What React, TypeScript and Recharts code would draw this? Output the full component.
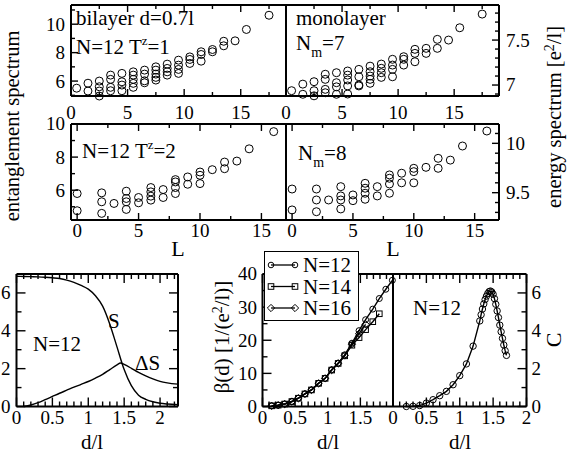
import React from 'react';
import { ScatterChart, Scatter, ComposedChart, Line, XAxis, YAxis, Legend } from 'recharts';

const W = 569;
const H = 453;
const FONT = 'Liberation Serif, DejaVu Serif, serif';

// ---------------- DATA ----------------
// Entanglement spectrum, bilayer d=0.7l, N=12, T^z=1
const tz1L = [0.5, 1.5, 2.5, 3.5, 4.5, 5.5, 6.5, 7.5, 8.5, 9.5, 10.5, 11.5, 12.5, 13.5, 14.5, 15.5, 17.5];
const tz1Levels = [
  [5.5],
  [5.85, 5.3],
  [6.0, 5.6, 5.3, 4.95],
  [6.42, 6.12, 5.56, 5.32],
  [6.54, 5.95, 5.72, 5.32],
  [6.65, 6.42, 6.12, 5.84, 5.56],
  [6.77, 6.49, 6.02, 5.88],
  [7.0, 6.77, 6.49, 6.26, 6.07],
  [7.19, 6.89, 6.65, 6.42],
  [7.47, 7.12, 6.82, 6.54],
  [7.7, 7.52, 7.24],
  [8.06, 7.87, 7.4],
  [8.22, 8.06],
  [8.8, 8.48],
  [8.83],
  [9.63],
  [10.63],
];

// Energy spectrum, monolayer N_m=7
const nm7L = [0.5, 1.5, 2.5, 3.5, 4.5, 5.5, 6.5, 7.5, 8.5, 9.5, 10.5, 11.5, 12.5, 13.5, 14.5, 15.5, 17.5];
const nm7Levels = [
  [6.937],
  [7.01, 6.897],
  [7.037, 6.937, 6.88],
  [7.12, 7.063, 6.952, 6.914],
  [7.137, 7.026, 6.98, 6.897],
  [7.156, 7.11, 7.056, 6.99, 6.9],
  [7.174, 7.092, 7.0, 6.99],
  [7.21, 7.148, 7.1, 7.063, 7.019],
  [7.233, 7.186, 7.137, 7.085],
  [7.286, 7.222, 7.174, 7.092],
  [7.315, 7.286, 7.222],
  [7.397, 7.352, 7.259],
  [7.408, 7.352],
  [7.508, 7.408],
  [7.5],
  [7.637],
  [7.789],
];

// Entanglement spectrum, N=12, T^z=2
const tz2L = [0, 2, 3, 4, 5, 6, 7, 8, 9, 10, 11, 12, 13, 14, 16];
const tz2Levels = [
  [5.8, 4.76],
  [5.84, 5.3, 4.6],
  [5.2],
  [5.94, 5.5, 5.3, 4.84],
  [5.56, 5.24],
  [6.16, 5.9, 5.64, 5.4],
  [6.04, 5.56],
  [6.64, 6.5, 6.16, 5.8],
  [6.8, 6.36],
  [7.1, 6.9, 6.4],
  [7.24],
  [7.7, 7.3],
  [7.76],
  [8.5],
  [9.54],
];

// Energy spectrum, monolayer N_m=8
const nm8L = [0, 2, 3, 4, 5, 6, 7, 8, 9, 10, 11, 12, 13, 14, 16];
const nm8Levels = [
  [9.537, 9.325],
  [9.537, 9.426, 9.307],
  [9.426],
  [9.561, 9.467, 9.426, 9.335],
  [9.477, 9.419],
  [9.595, 9.545, 9.494, 9.433],
  [9.561, 9.467],
  [9.68, 9.646, 9.588, 9.494],
  [9.697, 9.6],
  [9.747, 9.713, 9.6],
  [9.757],
  [9.848, 9.747],
  [9.83],
  [9.973],
  [10.125],
];

// S and Delta S vs d/l (N=12)
const sD = [0, 0.1, 0.2, 0.3, 0.4, 0.5, 0.6, 0.7, 0.8, 0.9, 1.0, 1.1, 1.2, 1.3, 1.4, 1.5, 1.6, 1.7, 1.8, 1.9, 2.0, 2.1, 2.25];
const sV = [6.88, 6.87, 6.86, 6.85, 6.83, 6.8, 6.76, 6.68, 6.56, 6.4, 6.2, 5.85, 5.3, 4.35, 3.15, 1.95, 1.1, 0.6, 0.38, 0.25, 0.17, 0.13, 0.1];
const dsD = [0.1, 0.2, 0.3, 0.4, 0.5, 0.6, 0.7, 0.8, 0.9, 1.0, 1.1, 1.2, 1.3, 1.4, 1.45, 1.5, 1.6, 1.7, 1.8, 1.9, 2.0, 2.1, 2.25];
const dsV = [0, 0.08, 0.2, 0.36, 0.53, 0.7, 0.86, 1.02, 1.17, 1.32, 1.5, 1.7, 1.95, 2.2, 2.3, 2.22, 2.02, 1.8, 1.62, 1.46, 1.33, 1.25, 1.18];

// beta(d)
const b12D = [0.14, 0.24, 0.34, 0.45, 0.55, 0.65, 0.75, 0.86, 0.96, 1.06, 1.16, 1.26, 1.37, 1.48, 1.58, 1.69, 1.79, 1.89, 1.99];
const b12V = [0.2, 0.4, 0.75, 1.5, 2.5, 3.8, 5.0, 7.0, 8.5, 11.1, 13.1, 15.6, 19.1, 22.9, 26.2, 29.4, 32.6, 35.4, 38.1];
const b14D = [0.14, 0.24, 0.34, 0.45, 0.55, 0.65, 0.75, 0.86, 0.96, 1.06, 1.16, 1.26, 1.37, 1.48, 1.58, 1.69, 1.79];
const b14V = [0.2, 0.4, 0.75, 1.5, 2.5, 3.8, 5.0, 7.0, 8.5, 11.0, 13.0, 15.3, 18.5, 20.8, 23.2, 25.6, 28.0];
const b16D = [0.14, 0.24, 0.34, 0.45, 0.55, 0.65, 0.75, 0.86, 0.96, 1.06, 1.16, 1.26, 1.37, 1.48, 1.58];
const b16V = [0.2, 0.4, 0.75, 1.5, 2.5, 3.8, 5.0, 7.0, 8.5, 11.0, 13.0, 15.4, 18.8, 22.0, 24.8];

// C(d), N=12
const cD = [0.2, 0.3, 0.4, 0.5, 0.6, 0.7, 0.8, 0.9, 1.0, 1.1, 1.2, 1.3, 1.32, 1.34, 1.36, 1.38, 1.4, 1.42, 1.44, 1.46,
  1.48, 1.5, 1.52, 1.54, 1.56, 1.58, 1.6, 1.62, 1.64, 1.66, 1.68, 1.7];
const cV = [0.0, 0.01, 0.05, 0.18, 0.36, 0.57, 0.8, 1.15, 1.63, 2.25, 3.19, 4.52, 4.85, 5.15, 5.42, 5.65, 5.83, 5.97, 6.07, 6.1,
  6.05, 5.93, 5.7, 5.4, 5.05, 4.7, 4.3, 3.95, 3.6, 3.25, 2.95, 2.7];

const legendNames = ['N=12', 'N=14', 'N=16'];

// ---------------- helpers ----------------
const levelsToPoints = (Ls: number[], lv: number[][]) =>
  Ls.flatMap((L, i) => lv[i].map((v) => ({ x: L, y: v })));
const zip = (xs: number[], ys: number[]) => xs.map((x, i) => ({ x, y: ys[i] }));
const steps = (a: number, b: number, s: number) => {
  const out: number[] = [];
  for (let k = 0; a + k * s <= b + 1e-9; k++) out.push(Math.round((a + k * s) * 1000) / 1000);
  return out;
};

type Edge = { major: number[]; minor?: number[]; labels?: number[]; gap?: number; majorLen: number; minorLen: number };
type Geom = {
  x0: number; x1: number; y0: number; y1: number;
  xDomain: [number, number]; yDomain: [number, number];
  bottom?: Edge; top?: Edge; left?: Edge; right?: Edge;
};

const near = (a: number[] | undefined, v: number) => !!a && a.some((m) => Math.abs(m - v) < 1e-6);
const TFS = 19;

// edge position comes from the panel frame, the tick position along the edge from the axis scale
function tickRenderer(side: 'bottom' | 'top' | 'left' | 'right', g: Geom, e?: Edge) {
  return (props: any) => {
    const { payload } = props;
    if (!e) return <g />;
    const v = payload.value as number;
    const c = side === 'bottom' || side === 'top'
      ? (Number.isFinite(props.x) ? props.x : payload.coordinate)
      : (Number.isFinite(props.y) ? props.y : payload.coordinate);
    const len = near(e.major, v) ? e.majorLen : near(e.minor, v) ? e.minorLen : 0;
    const lab = near(e.labels, v);
    const gap = e.gap ?? 5;
    let line: any = null;
    let text: any = null;
    const ts = { fontFamily: FONT, fontSize: TFS, fill: '#000' };
    if (side === 'bottom') {
      const y = g.y1;
      if (len) line = <line x1={c} y1={y} x2={c} y2={y - len} />;
      if (lab) text = <text x={c} y={y + gap + TFS * 0.68} textAnchor="middle" {...ts}>{String(v)}</text>;
    } else if (side === 'top') {
      const y = g.y0;
      if (len) line = <line x1={c} y1={y} x2={c} y2={y + len} />;
    } else if (side === 'left') {
      const x = g.x0;
      if (len) line = <line x1={x} y1={c} x2={x + len} y2={c} />;
      if (lab) text = <text x={x - gap} y={c + TFS * 0.34} textAnchor="end" {...ts}>{String(v)}</text>;
    } else {
      const x = g.x1;
      if (len) line = <line x1={x} y1={c} x2={x - len} y2={c} />;
      if (lab) text = <text x={x + gap} y={c + TFS * 0.34} textAnchor="start" {...ts}>{String(v)}</text>;
    }
    return (
      <g>
        {line && <g stroke="#000" strokeWidth={1.4}>{line}</g>}
        {text}
      </g>
    );
  };
}

const AXIS = { stroke: '#000', strokeWidth: 2 };

const edgeTicks = (e: Edge | undefined, dom: [number, number]) => {
  if (!e) return [dom[0]];
  const all = [...e.major, ...(e.minor ?? [])];
  return Array.from(new Set(all)).sort((a, b) => a - b);
};

function frameAxes(g: Geom) {
  return [
    <XAxis key="xs" xAxisId="s" type="number" dataKey="x" domain={g.xDomain} hide />,
    <YAxis key="ys" yAxisId="s" type="number" dataKey="y" domain={g.yDomain} hide />,
    <XAxis key="xb" xAxisId="b" dataKey="x" orientation="bottom" type="number" domain={g.xDomain} allowDataOverflow height={1}
      ticks={edgeTicks(g.bottom, g.xDomain)} interval={0} tickLine={false} tickSize={0} tickMargin={0}
      axisLine={AXIS} tick={tickRenderer('bottom', g, g.bottom)} />,
    <XAxis key="xt" xAxisId="t" dataKey="x" orientation="top" type="number" domain={g.xDomain} allowDataOverflow height={1}
      ticks={edgeTicks(g.top, g.xDomain)} interval={0} tickLine={false} tickSize={0} tickMargin={0}
      axisLine={AXIS} tick={tickRenderer('top', g, g.top)} />,
    <YAxis key="yl" yAxisId="l" dataKey="y" orientation="left" type="number" domain={g.yDomain} allowDataOverflow width={1}
      ticks={edgeTicks(g.left, g.yDomain)} interval={0} tickLine={false} tickSize={0} tickMargin={0}
      axisLine={AXIS} tick={tickRenderer('left', g, g.left)} />,
    <YAxis key="yr" yAxisId="r" dataKey="y" orientation="right" type="number" domain={g.yDomain} allowDataOverflow width={1}
      ticks={edgeTicks(g.right, g.yDomain)} interval={0} tickLine={false} tickSize={0} tickMargin={0}
      axisLine={AXIS} tick={tickRenderer('right', g, g.right)} />,
  ];
}

const margins = (g: Geom) => ({ top: g.y0 - 1, bottom: H - g.y1 - 1, left: g.x0 - 1, right: W - g.x1 - 1 });

const circleShape = (r: number) => (p: any) => (
  <circle cx={p.cx} cy={p.cy} r={r} fill="none" stroke="#000" strokeWidth={1} />
);

const markerDot = (kind: 'circle' | 'square' | 'diamond', s: number) => (p: any) => {
  const { cx, cy, index } = p;
  if (cx == null || cy == null) return <g key={`n${index}`} />;
  if (kind === 'circle') return <circle key={`c${index}`} cx={cx} cy={cy} r={s} fill="none" stroke="#000" strokeWidth={1} />;
  if (kind === 'square') return <rect key={`s${index}`} x={cx - s} y={cy - s} width={2 * s} height={2 * s} fill="none" stroke="#000" strokeWidth={1} />;
  return <polygon key={`d${index}`} points={`${cx},${cy - s * 1.3} ${cx + s * 1.3},${cy} ${cx},${cy + s * 1.3} ${cx - s * 1.3},${cy}`} fill="none" stroke="#000" strokeWidth={1} />;
};

// ---------------- panel geometry ----------------
const topMajor = [0, 5, 10, 15];
const topMinor = [2.5, 7.5, 12.5, 17.5];

const g1: Geom = {
  x0: 71, x1: 286, y0: 5, y1: 96, xDomain: [0, 19], yDomain: [4.95, 11.35],
  bottom: { major: topMajor, minor: topMinor, labels: topMajor, gap: 10, majorLen: 7, minorLen: 4 },
  top: { major: topMajor, minor: topMinor, majorLen: 7, minorLen: 4 },
  left: { major: [6, 8, 10], minor: [5, 7, 9, 11], labels: [6, 8, 10], gap: 6, majorLen: 7, minorLen: 4 },
};
const g2: Geom = {
  x0: 286, x1: 499, y0: 5, y1: 96, xDomain: [0, 19], yDomain: [6.878, 7.89],
  bottom: { major: topMajor, minor: topMinor, labels: topMajor, gap: 10, majorLen: 7, minorLen: 4 },
  top: { major: topMajor, minor: topMinor, majorLen: 7, minorLen: 4 },
  right: { major: [7, 7.5], minor: [6.9, 7.1, 7.2, 7.3, 7.4, 7.6, 7.7, 7.8], labels: [7, 7.5], gap: 7, majorLen: 7, minorLen: 4 },
};
const g3: Geom = {
  x0: 71, x1: 286, y0: 124, y1: 220, xDomain: [-0.5, 17], yDomain: [4.2, 10],
  bottom: { major: topMajor, minor: [2.5, 7.5, 12.5], labels: topMajor, gap: 4, majorLen: 7, minorLen: 4 },
  top: { major: topMajor, minor: [2.5, 7.5, 12.5], majorLen: 7, minorLen: 4 },
  left: { major: [6, 8, 10], minor: [5, 7, 9], labels: [6, 8, 10], gap: 6, majorLen: 7, minorLen: 4 },
};
const g4: Geom = {
  x0: 286, x1: 499, y0: 124, y1: 220, xDomain: [-0.5, 17], yDomain: [9.223, 10.196],
  bottom: { major: topMajor, minor: [2.5, 7.5, 12.5], labels: topMajor, gap: 4, majorLen: 7, minorLen: 4 },
  top: { major: topMajor, minor: [2.5, 7.5, 12.5], majorLen: 7, minorLen: 4 },
  right: { major: [9.5, 10], minor: [9.3, 9.4, 9.6, 9.7, 9.8, 9.9, 10.1], labels: [9.5, 10], gap: 7, majorLen: 7, minorLen: 4 },
};
const dMajor = [0, 0.5, 1, 1.5, 2];
const g5: Geom = {
  x0: 16.5, x1: 178, y0: 274, y1: 406.5, xDomain: [0, 2.25], yDomain: [0, 7],
  bottom: { major: dMajor, minor: steps(0, 2.2, 0.1), labels: dMajor, gap: 5, majorLen: 9, minorLen: 5 },
  top: { major: dMajor, minor: steps(0, 2.2, 0.1), majorLen: 9, minorLen: 5 },
  left: { major: [0, 2, 4, 6], minor: [1, 3, 5], labels: [0, 2, 4, 6], gap: 6, majorLen: 9, minorLen: 5 },
  right: { major: [0, 2, 4, 6], minor: [1, 3, 5], majorLen: 9, minorLen: 5 },
};
const g6: Geom = {
  x0: 262.5, x1: 393, y0: 274, y1: 406.5, xDomain: [0, 2], yDomain: [0, 40],
  bottom: { major: dMajor, minor: steps(0, 2, 0.1), labels: [0, 0.5, 1, 1.5], gap: 5, majorLen: 9, minorLen: 5 },
  top: { major: dMajor, minor: steps(0, 2, 0.1), majorLen: 9, minorLen: 5 },
  left: { major: [0, 10, 20, 30, 40], minor: [5, 15, 25, 35], labels: [0, 10, 20, 30, 40], gap: 5.5, majorLen: 9, minorLen: 5 },
};
const g7: Geom = {
  x0: 393, x1: 526.5, y0: 274, y1: 406.5, xDomain: [0, 2], yDomain: [0, 7],
  bottom: { major: dMajor, minor: steps(0, 2, 0.1), labels: dMajor, gap: 5, majorLen: 9, minorLen: 5 },
  top: { major: dMajor, minor: steps(0, 2, 0.1), majorLen: 9, minorLen: 5 },
  right: { major: [0, 2, 4, 6], minor: [1, 3, 5], labels: [0, 2, 4, 6], gap: 5, majorLen: 9, minorLen: 5 },
};

const layer: React.CSSProperties = { position: 'absolute', left: 0, top: 0 };

function ScatterPanel({ g, pts }: { g: Geom; pts: { x: number; y: number }[] }) {
  return (
    <div style={layer}>
      <ScatterChart width={W} height={H} margin={margins(g)}>
        {frameAxes(g)}
        <Scatter data={pts} xAxisId="s" yAxisId="s" shape={circleShape(4)} isAnimationActive={false} />
      </ScatterChart>
    </div>
  );
}

const legendContent = () => (
  <svg width={95} height={70} style={{ display: 'block' }}>
    <rect x={0.5} y={0.5} width={94} height={69} fill="#fff" stroke="#000" strokeWidth={1} />
    {legendNames.map((n, i) => {
      const y = 14 + 21.5 * i;
      const kind = i === 0 ? 'circle' : i === 1 ? 'square' : 'diamond';
      const Dot = markerDot(kind as any, 2.8);
      return (
        <g key={n}>
          <line x1={7} x2={31} y1={y} y2={y} stroke="#000" strokeWidth={1.3} />
          {Dot({ cx: 7, cy: y, index: 0 })}
          {Dot({ cx: 31, cy: y, index: 1 })}
          <text x={39} y={y + 7} fontFamily={FONT} fontSize={21} fill="#000">{n}</text>
        </g>
      );
    })}
  </svg>
);

export default function App() {
  const lineProps = { xAxisId: 's', yAxisId: 's', dataKey: 'y', stroke: '#000', strokeWidth: 1.4, isAnimationActive: false } as any;
  const tf = { fontFamily: FONT, fill: '#000' };
  return (
    <div style={{ position: 'absolute', left: 0, top: 0, width: W, height: H, background: '#fff', overflow: 'hidden', fontFamily: FONT }}>
      <ScatterPanel g={g1} pts={levelsToPoints(tz1L, tz1Levels)} />
      <ScatterPanel g={g2} pts={levelsToPoints(nm7L, nm7Levels)} />
      <ScatterPanel g={g3} pts={levelsToPoints(tz2L, tz2Levels)} />
      <ScatterPanel g={g4} pts={levelsToPoints(nm8L, nm8Levels)} />

      <div style={layer}>
        <ComposedChart width={W} height={H} margin={margins(g5)}>
          {frameAxes(g5)}
          <Line {...lineProps} data={zip(sD, sV)} type="monotone" dot={false} />
          <Line {...lineProps} data={zip(dsD, dsV)} type="monotone" dot={false} />
        </ComposedChart>
      </div>

      <div style={layer}>
        <ComposedChart width={W} height={H} margin={margins(g6)}>
          {frameAxes(g6)}
          <Line {...lineProps} data={zip(b16D, b16V)} type="linear" dot={markerDot('diamond', 2.8)} />
          <Line {...lineProps} data={zip(b14D, b14V)} type="linear" dot={markerDot('square', 2.8)} />
          <Line {...lineProps} data={zip(b12D, b12V)} type="linear" dot={markerDot('circle', 3)} />
          <Legend layout="horizontal" verticalAlign="middle" align="center" content={legendContent}
            wrapperStyle={{ left: 264, top: 251, width: 95, height: 70 }} />
        </ComposedChart>
      </div>

      <div style={layer}>
        <ComposedChart width={W} height={H} margin={margins(g7)}>
          {frameAxes(g7)}
          <Line {...lineProps} data={zip(cD, cV)} type="linear" dot={markerDot('circle', 3.2)} />
        </ComposedChart>
      </div>

      <svg width={W} height={H} style={{ ...layer, pointerEvents: 'none' }}>
        <g {...tf}>
          <text transform="translate(19,126) rotate(-90)" textAnchor="middle" fontSize={20.5}>entanglement spectrum</text>
          <text transform="translate(561,117) rotate(-90)" textAnchor="middle" fontSize={20.5}>
            energy spectrum [e<tspan dy={-7} fontSize={14}>2</tspan><tspan dy={7}>/l]</tspan>
          </text>
          <text x={178} y={256} textAnchor="middle" fontSize={22}>L</text>
          <text x={393} y={256} textAnchor="middle" fontSize={22}>L</text>
          <text x={92} y={449} textAnchor="middle" fontSize={21}>d/l</text>
          <text x={328} y={449} textAnchor="middle" fontSize={21}>d/l</text>
          <text x={460} y={449} textAnchor="middle" fontSize={21}>d/l</text>
          <text transform="translate(229,337) rotate(-90)" textAnchor="middle" fontSize={21}>
            β(d) [1/(e<tspan dy={-7} fontSize={14}>2</tspan><tspan dy={7}>/l)]</tspan>
          </text>
          <text transform="translate(561,340) rotate(-90)" textAnchor="middle" fontSize={22}>C</text>

          <text x={76} y={25} fontSize={21}>bilayer d=0.7l</text>
          <text x={76} y={54} fontSize={21}>
            N=12 T<tspan dy={-9} fontSize={13}>z</tspan><tspan dy={9}>=1</tspan>
          </text>
          <text x={296} y={25} fontSize={21}>monolayer</text>
          <text x={296} y={50} fontSize={21}>
            N<tspan dy={7} fontSize={14}>m</tspan><tspan dy={-7}>=7</tspan>
          </text>
          <text x={82} y={158} fontSize={21}>
            N=12 T<tspan dy={-9} fontSize={13}>z</tspan><tspan dy={9}>=2</tspan>
          </text>
          <text x={298} y={160} fontSize={21}>
            N<tspan dy={7} fontSize={14}>m</tspan><tspan dy={-7}>=8</tspan>
          </text>
          <text x={33} y={351} fontSize={21}>N=12</text>
          <text x={108} y={328} fontSize={21}>S</text>
          <text x={135} y={370} fontSize={21}>ΔS</text>
          <text x={413} y={315} fontSize={21}>N=12</text>
        </g>
      </svg>
    </div>
  );
}
